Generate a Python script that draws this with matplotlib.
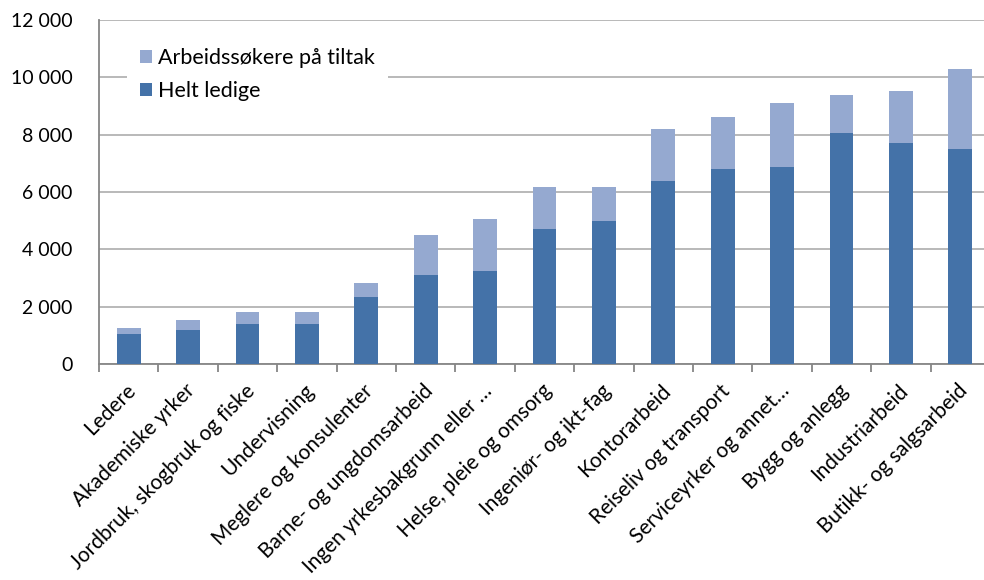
import matplotlib
matplotlib.use("Agg")
import matplotlib.pyplot as plt
from matplotlib.ticker import FuncFormatter, MultipleLocator
from matplotlib.transforms import ScaledTranslation

categories = [
    "Ledere", "Akademiske yrker", "Jordbruk, skogbruk og fiske", "Undervisning",
    "Meglere og konsulenter", "Barne- og ungdomsarbeid", "Ingen yrkesbakgrunn eller …",
    "Helse, pleie og omsorg", "Ingeniør- og ikt-fag", "Kontorarbeid",
    "Reiseliv og transport", "Serviceyrker og annet…", "Bygg og anlegg",
    "Industriarbeid", "Butikk- og salgsarbeid",
]
helt_ledige = [1060, 1200, 1410, 1410, 2320, 3090, 3230, 4700, 4980, 6380, 6800, 6870, 8050, 7700, 7500]
totals = [1270, 1550, 1830, 1830, 2810, 4490, 5050, 6170, 6170, 8200, 8620, 9100, 9380, 9520, 10290]
tiltak = [t - h for t, h in zip(totals, helt_ledige)]

dark = "#4472A8"
light = "#95A9D0"

plt.rcParams["font.family"] = ["Lato", "DejaVu Sans"]
FS_Y = 14
FS_X = 15
FS_L = 15.5

fig = plt.figure(figsize=(9.84, 5.8), dpi=100)
ax = fig.add_axes([99 / 984, 1 - 364 / 580, 891 / 984, (364 - 20) / 580])

x = list(range(len(categories)))
b1 = ax.bar(x, helt_ledige, width=0.40, color=dark, zorder=3, label="Helt ledige")
b2 = ax.bar(x, tiltak, bottom=helt_ledige, width=0.40, color=light, zorder=3,
            label="Arbeidssøkere på tiltak")

ax.set_xlim(-0.5, len(categories) - 0.5)
ax.set_ylim(0, 12000)
ax.yaxis.set_major_locator(MultipleLocator(2000))
ax.yaxis.set_major_formatter(FuncFormatter(lambda v, p: f"{int(v):,}".replace(",", " ")))
ax.grid(axis="y", color="#B3B3B3", linewidth=1.3, zorder=0)
ax.set_axisbelow(True)

for s in ["top", "right"]:
    ax.spines[s].set_visible(False)
for s in ["left", "bottom"]:
    ax.spines[s].set_color("#868686")
    ax.spines[s].set_linewidth(1.3)

ax.set_xticks(x)
ax.set_xticklabels(categories, rotation=45, ha="right", rotation_mode="anchor", fontsize=FS_X)
ax.set_xticks([i - 0.5 for i in range(len(categories) + 1)], minor=True)
ax.tick_params(axis="x", which="major", length=0, pad=9)
ax.tick_params(axis="x", which="minor", length=6, width=1.3, color="#868686")
ax.tick_params(axis="y", length=0, pad=19, labelsize=FS_Y)

shift = ScaledTranslation(-3 / 100, -4 / 100, fig.dpi_scale_trans)
for lab in ax.get_xticklabels():
    lab.set_transform(lab.get_transform() + shift)

leg = ax.legend([b2, b1], ["Arbeidssøkere på tiltak", "Helt ledige"],
                loc="upper left", bbox_to_anchor=(0.031, 0.957), frameon=True,
                fancybox=False, edgecolor="none", facecolor="white", framealpha=1,
                fontsize=FS_L, handlelength=0.56, handleheight=0.56, handletextpad=0.3,
                labelspacing=0.62, borderpad=0.6, borderaxespad=0)
leg.set_zorder(5)

fig.savefig("out.png", dpi=100)
